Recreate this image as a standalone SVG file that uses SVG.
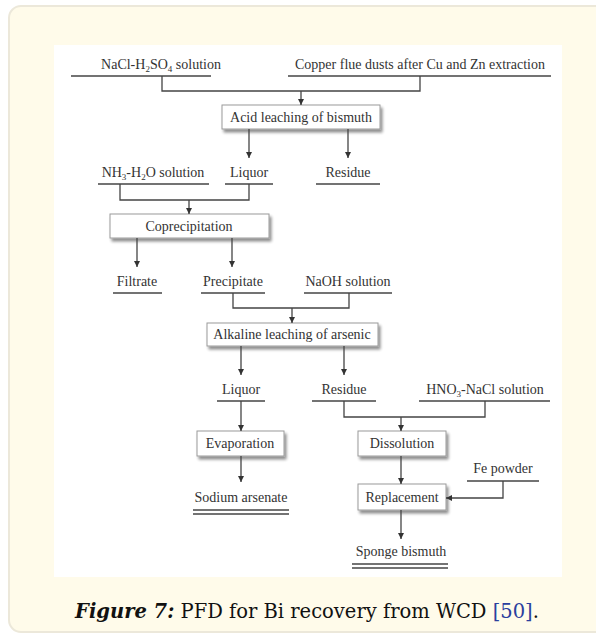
<svg xmlns="http://www.w3.org/2000/svg" width="596" height="637" viewBox="0 0 596 637">
  <style>
    .lbl { font-family: "Liberation Serif", "Times New Roman", serif; font-size: 14px; fill: #333; text-anchor: middle; }
    .sub { font-size: 9px; }
    .ul { stroke: #444; stroke-width: 1.3; fill: none; }
    .box { fill: #fff; stroke: #9a9a9a; stroke-width: 1; filter: url(#shadow); }
    .ln { stroke: #444; stroke-width: 1.3; fill: none; }
    .arr { stroke: #444; stroke-width: 1.3; fill: none; marker-end: url(#ah); }
    .cap { font-family: "DejaVu Serif", "Liberation Serif", serif; font-size: 19.5px; fill: #111; }
  </style>
  <defs>
    <marker id="ah" viewBox="0 0 8 8" refX="8" refY="4" markerWidth="6" markerHeight="6" markerUnits="userSpaceOnUse" orient="auto">
      <path d="M0,0 L8,4 L0,8 z" fill="#333"/>
    </marker>
    <filter id="shadow" x="-10%" y="-20%" width="125%" height="160%">
      <feGaussianBlur in="SourceAlpha" stdDeviation="1.5"/>
      <feOffset dx="2" dy="2.5" result="b"/>
      <feComponentTransfer><feFuncA type="linear" slope="0.45"/></feComponentTransfer>
      <feMerge><feMergeNode/><feMergeNode in="SourceGraphic"/></feMerge>
    </filter>
  </defs>

  <!-- card background and figure panel -->
  <rect x="9" y="6" width="600" height="626" rx="12" fill="#fffbea" stroke="#ece8da" stroke-width="2"/>
  <rect x="54" y="45" width="508" height="532" fill="#ffffff"/>

  <!-- stream labels (text over a rule) -->
  <g id="nacl-h2so4">
    <text class="lbl" x="161" y="69">NaCl-H<tspan class="sub" dy="3">2</tspan><tspan dy="-3">SO</tspan><tspan class="sub" dy="3">4</tspan><tspan dy="-3"> solution</tspan></text>
    <line class="ul" x1="71" y1="76" x2="211" y2="76"/>
  </g>
  <g id="copper-dusts">
    <text class="lbl" x="420" y="69">Copper flue dusts after Cu and Zn extraction</text>
    <line class="ul" x1="288" y1="76" x2="551" y2="76"/>
  </g>
  <g id="acid-leaching">
    <rect class="box" x="222" y="105" width="158" height="24"/>
    <text class="lbl" x="301" y="122">Acid leaching of bismuth</text>
  </g>
  <g id="nh3-h2o">
    <text class="lbl" x="153" y="177">NH<tspan class="sub" dy="3">3</tspan><tspan dy="-3">-H</tspan><tspan class="sub" dy="3">2</tspan><tspan dy="-3">O solution</tspan></text>
    <line class="ul" x1="98" y1="184" x2="209" y2="184"/>
  </g>
  <g id="liquor-1">
    <text class="lbl" x="249" y="177">Liquor</text>
    <line class="ul" x1="225" y1="184" x2="273" y2="184"/>
  </g>
  <g id="residue-1">
    <text class="lbl" x="348" y="177">Residue</text>
    <line class="ul" x1="316" y1="184" x2="380" y2="184"/>
  </g>
  <g id="coprecipitation">
    <rect class="box" x="110" y="214" width="159" height="24"/>
    <text class="lbl" x="189" y="231">Coprecipitation</text>
  </g>
  <g id="filtrate">
    <text class="lbl" x="137" y="286">Filtrate</text>
    <line class="ul" x1="113" y1="293" x2="162" y2="293"/>
  </g>
  <g id="precipitate">
    <text class="lbl" x="233" y="286">Precipitate</text>
    <line class="ul" x1="201" y1="293" x2="265" y2="293"/>
  </g>
  <g id="naoh">
    <text class="lbl" x="348" y="286">NaOH solution</text>
    <line class="ul" x1="304" y1="293" x2="392" y2="293"/>
  </g>
  <g id="alkaline-leaching">
    <rect class="box" x="207" y="323" width="171" height="23"/>
    <text class="lbl" x="292" y="339">Alkaline leaching of arsenic</text>
  </g>
  <g id="liquor-2">
    <text class="lbl" x="241" y="394">Liquor</text>
    <line class="ul" x1="217" y1="401" x2="265" y2="401"/>
  </g>
  <g id="residue-2">
    <text class="lbl" x="344" y="394">Residue</text>
    <line class="ul" x1="312" y1="401" x2="376" y2="401"/>
  </g>
  <g id="hno3-nacl">
    <text class="lbl" x="485" y="394">HNO<tspan class="sub" dy="3">3</tspan><tspan dy="-3">-NaCl solution</tspan></text>
    <line class="ul" x1="419" y1="401" x2="550" y2="401"/>
  </g>
  <g id="evaporation">
    <rect class="box" x="197" y="431" width="87" height="25"/>
    <text class="lbl" x="240" y="448">Evaporation</text>
  </g>
  <g id="dissolution">
    <rect class="box" x="358" y="431" width="88" height="25"/>
    <text class="lbl" x="402" y="448">Dissolution</text>
  </g>
  <g id="fe-powder">
    <text class="lbl" x="503" y="473">Fe powder</text>
    <line class="ul" x1="467" y1="481" x2="539" y2="481"/>
  </g>
  <g id="sodium-arsenate">
    <text class="lbl" x="241" y="502">Sodium arsenate</text>
    <line class="ul" x1="193" y1="510" x2="289" y2="510"/>
    <line class="ul" x1="193" y1="514" x2="289" y2="514"/>
  </g>
  <g id="replacement">
    <rect class="box" x="358" y="484" width="88" height="26"/>
    <text class="lbl" x="402" y="502">Replacement</text>
  </g>
  <g id="sponge-bismuth">
    <text class="lbl" x="401" y="556">Sponge bismuth</text>
    <line class="ul" x1="352" y1="564" x2="448" y2="564"/>
    <line class="ul" x1="352" y1="568" x2="448" y2="568"/>
  </g>

  <!-- connectors -->
  <g id="connectors">
    <polyline class="ln" points="162,76 162,91 420,91 420,76"/>
    <line class="arr" x1="301" y1="91" x2="301" y2="105"/>
    <line class="arr" x1="249" y1="129" x2="249" y2="158"/>
    <line class="arr" x1="348" y1="129" x2="348" y2="158"/>
    <polyline class="ln" points="120,184 120,200 249,200 249,184"/>
    <line class="arr" x1="189" y1="200" x2="189" y2="214"/>
    <line class="arr" x1="137" y1="238" x2="137" y2="267"/>
    <line class="arr" x1="232" y1="238" x2="232" y2="267"/>
    <polyline class="ln" points="233,293 233,308 349,308 349,293"/>
    <line class="arr" x1="292" y1="308" x2="292" y2="323"/>
    <line class="arr" x1="241" y1="346" x2="241" y2="375"/>
    <line class="arr" x1="344" y1="346" x2="344" y2="375"/>
    <line class="arr" x1="241" y1="401" x2="241" y2="431"/>
    <polyline class="ln" points="344,401 344,417 485,417 485,401"/>
    <line class="arr" x1="401" y1="417" x2="401" y2="431"/>
    <line class="arr" x1="241" y1="456" x2="241" y2="482"/>
    <line class="arr" x1="401" y1="456" x2="401" y2="484"/>
    <polyline class="arr" points="503,481 503,498 446,498"/>
    <line class="arr" x1="401" y1="510" x2="401" y2="539"/>
  </g>

  <!-- caption -->
  <text class="cap" x="307" y="618" text-anchor="middle"><tspan font-weight="bold" font-style="italic">Figure 7:</tspan> PFD for Bi recovery from WCD <tspan fill="#2b3f9e">[50]</tspan>.</text>
</svg>
